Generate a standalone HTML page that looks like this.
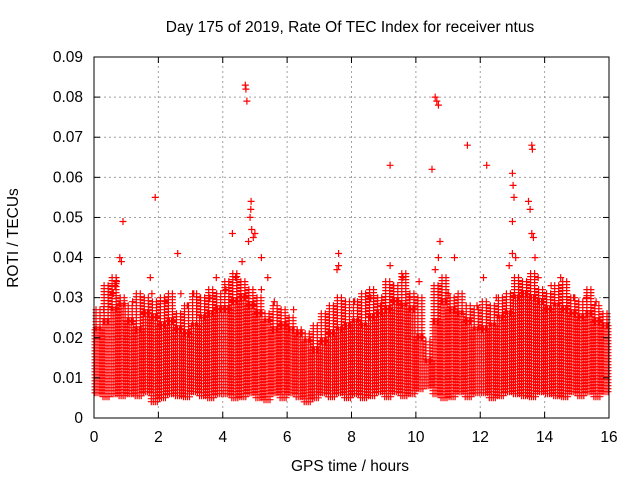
<!DOCTYPE html>
<html><head><meta charset="utf-8"><style>
body{margin:0;background:#fff;}
svg text{font-family:"Liberation Sans",sans-serif;font-size:15.5px;fill:#000;}
</style></head><body>
<svg id="chart" width="640" height="480" xmlns="http://www.w3.org/2000/svg">
<rect width="640" height="480" fill="#fff"/>
<text x="350" y="32" text-anchor="middle">Day 175 of 2019, Rate Of TEC Index for receiver ntus</text>
<text x="350" y="471" text-anchor="middle">GPS time / hours</text>
<text transform="translate(18,238) rotate(-90)" text-anchor="middle">ROTI / TECUs</text>
<g id="grid"></g><g id="marks"></g><g id="axes"></g>
</svg>
<script>
const xTicks=[0,2,4,6,8,10,12,14,16];
const yTicks=[0,0.01,0.02,0.03,0.04,0.05,0.06,0.07,0.08,0.09];
const binWidth=0.25;
const bandHi=[.022,.024,.027,.028,.024,.022,.026,.025,.023,.024,.022,.021,.023,.025,.026,.027,
.027,.029,.030,.028,.026,.024,.022,.023,.022,.021,.019,.017,.019,.021,.022,.023,
.024,.023,.025,.026,.027,.029,.028,.027,.020,.014,.024,.029,.027,.026,.024,.022,
.022,.023,.025,.026,.030,.031,.030,.029,.027,.028,.027,.026,.025,.026,.024,.023];
const spikeHi=[.027,.033,.035,.030,.028,.031,.030,.029,.030,.031,.026,.028,.031,.030,.032,.031,
.034,.036,.034,.032,.030,.026,.028,.027,.025,.022,.021,.023,.026,.028,.030,.029,
.029,.031,.032,.030,.034,.033,.036,.031,.030,.019,.033,.035,.030,.031,.028,.027,
.029,.028,.030,.031,.035,.034,.036,.032,.031,.033,.034,.030,.029,.032,.028,.026];
const bandLo=[.006,.005,.006,.005,.006,.005,.006,.004,.005,.006,.005,.005,.006,.005,.005,.006,
.006,.005,.005,.006,.005,.004,.006,.005,.006,.005,.004,.005,.006,.005,.006,.005,
.006,.005,.005,.006,.005,.006,.005,.006,.007,.008,.006,.005,.005,.006,.005,.006,
.006,.005,.005,.006,.006,.005,.005,.006,.006,.005,.005,.006,.005,.006,.005,.006];
const outT=[0.6,0.65,0.7,0.8,0.85,0.9,1.8,1.9,1.75,2.6,2.2,2.7,3.1,3.3,3.8,4.3,4.4,4.7,4.72,4.75,4.8,4.85,4.87,4.88,4.9,4.95,5.0,4.6,5.2,5.4,5.2,7.6,7.6,7.55,8.6,9.2,9.2,9.3,9.6,10.1,10.5,10.6,10.65,10.7,10.75,10.7,10.6,11.2,11.6,12.2,12.1,13.0,13.02,13.05,13.0,13.0,13.1,12.9,13.5,13.55,13.6,13.62,13.6,13.65,13.7,13.8,14.5,14.9,15.3,0.3,1.2,2.9,3.6,4.1,5.6,6.2,8.1,8.9,9.8,11.0,11.9,12.5,14.2,15.6];
const outV=[0.031,0.033,0.034,0.040,0.039,0.049,0.031,0.055,0.035,0.041,0.029,0.031,0.031,0.030,0.035,0.046,0.035,0.083,0.082,0.079,0.044,0.050,0.052,0.054,0.047,0.045,0.046,0.039,0.040,0.035,0.032,0.041,0.038,0.037,0.030,0.063,0.038,0.033,0.035,0.034,0.062,0.080,0.079,0.078,0.044,0.040,0.037,0.040,0.068,0.063,0.035,0.061,0.058,0.055,0.049,0.041,0.040,0.038,0.054,0.052,0.068,0.067,0.046,0.045,0.040,0.035,0.035,0.030,0.030,0.027,0.029,0.028,0.030,0.032,0.029,0.027,0.029,0.028,0.030,0.031,0.028,0.030,0.033,0.029];
const X0=94,X1=609,Y0=418,Y1=57;
const xs=t=>X0+(t/16)*(X1-X0);
const ys=v=>Y0-(v/0.09)*(Y0-Y1);
const NS="http://www.w3.org/2000/svg";
const grid=document.getElementById('grid'),marks=document.getElementById('marks'),axes=document.getElementById('axes');
function mk(tag,attrs,parent){const e=document.createElementNS(NS,tag);for(const k in attrs)e.setAttribute(k,attrs[k]);parent.appendChild(e);return e;}
xTicks.forEach(t=>{const x=xs(t);
 if(t>0&&t<16){const g=mk('line',{x1:x,x2:x,y1:Y0,y2:Y1,stroke:'#a0a0a0','stroke-dasharray':'2,3'},grid);
 
 }
 mk('line',{x1:x,x2:x,y1:Y0,y2:Y0-6,stroke:'#000'},axes);mk('line',{x1:x,x2:x,y1:Y1,y2:Y1+6,stroke:'#000'},axes);
 const lb=mk('text',{x:x,y:Y0+24,'text-anchor':'middle'},axes);lb.textContent=t;
 
 });
yTicks.forEach(v=>{const y=ys(v);
 if(v>0&&v<0.09){const g=mk('line',{x1:X0,x2:X1,y1:y,y2:y,stroke:'#a0a0a0','stroke-dasharray':'2,3'},grid);
 
 }
 mk('line',{x1:X0,x2:X0+6,y1:y,y2:y,stroke:'#000'},axes);mk('line',{x1:X1,x2:X1-6,y1:y,y2:y,stroke:'#000'},axes);
 const lb=mk('text',{x:X0-11,y:y+5,'text-anchor':'end'},axes);lb.textContent=v===0?'0':v.toFixed(2);
 
 });
const fr=mk('rect',{x:X0,y:Y1,width:X1-X0,height:Y0-Y1,fill:'none',stroke:'#000'},axes);


let d='';
function cross(x,y){d+=`M${(x-3.5).toFixed(1)} ${y.toFixed(1)}h7M${x.toFixed(1)} ${(y-3.5).toFixed(1)}v7`;}
bandHi.forEach((hi,i)=>{const xa=xs(i*binWidth),xb=xs((i+1)*binWidth);const ya=ys(hi),yb=ys(bandLo[i]);
 for(let x=xa+1;x<xb;x+=2){for(let y=ya;y<=yb;y+=3)cross(x,y);}
 const xm=(xa+xb)/2;const ys2=ys(spikeHi[i]);
 for(let y=ys2;y<ya;y+=3){cross(xm-2,y);cross(xm+2,y);}});
outT.forEach((t,i)=>cross(xs(t),ys(outV[i])));
const p=mk('path',{d:d,stroke:'#ff0000','stroke-width':1.2,fill:'none'},marks);


</script>
</body></html>
